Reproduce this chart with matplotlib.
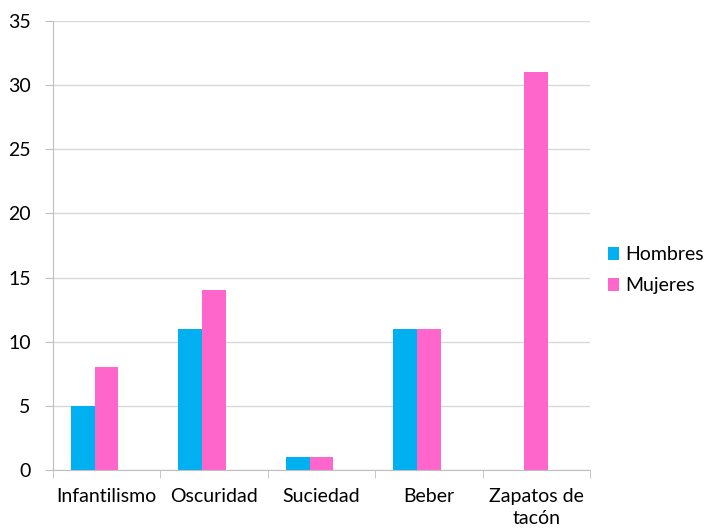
import matplotlib
matplotlib.use("Agg")
import matplotlib.pyplot as plt
import numpy as np

plt.rcParams['font.family'] = ['Lato', 'DejaVu Sans']

categorias = ['Infantilismo', 'Oscuridad', 'Suciedad', 'Beber', 'Zapatos de\ntacón']
hombres = [5, 11, 1, 11, 0]
mujeres = [8, 14, 1, 11, 31]

fig = plt.figure(figsize=(7.24, 5.32), dpi=100)
ax = fig.add_axes([0.073, 0.1165, 0.742, 0.844])

x = np.arange(len(categorias))
w = 0.222
ax.bar(x - w, hombres, w, color='#00B0F0', label='Hombres')
ax.bar(x, mujeres, w, color='#FF66CC', label='Mujeres')

ax.set_xlim(-0.5, len(categorias) - 0.5)
ax.set_ylim(0, 35)
ax.set_yticks(range(0, 36, 5))
ax.grid(axis='y', color='#d9d9d9', linewidth=1)
ax.set_axisbelow(True)

# category labels centred, tick marks at boundaries
ax.set_xticks(x)
ax.set_xticklabels(categorias, fontsize=14, linespacing=1.35)
ax.set_xticks(np.arange(-0.5, len(categorias)), minor=True)
ax.tick_params(axis='x', which='major', length=0, pad=13)
ax.tick_params(axis='x', which='minor', length=6, color='#bfbfbf')
ax.tick_params(axis='y', length=6, color='#bfbfbf', labelsize=14, pad=10)

for s in ['top', 'right']:
    ax.spines[s].set_visible(False)
for s in ['left', 'bottom']:
    ax.spines[s].set_color('#bfbfbf')

ax.legend(loc='center left', bbox_to_anchor=(1.0, 0.445), frameon=False,
          fontsize=14, handlelength=0.6, handleheight=0.6, handletextpad=0.3,
          labelspacing=0.72)

fig.savefig('out.png', dpi=100)
